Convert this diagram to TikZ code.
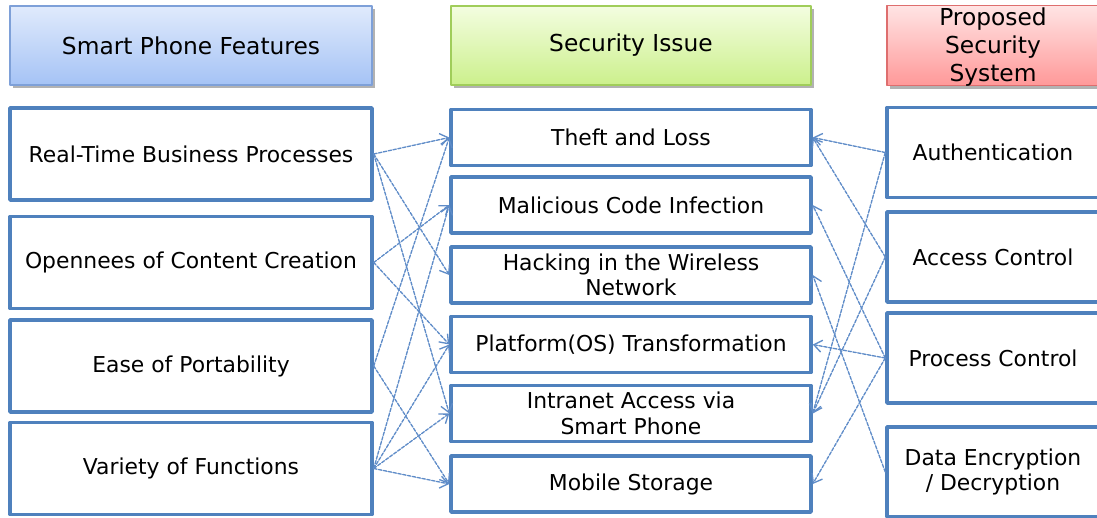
\documentclass[tikz,border=0pt]{standalone}
\usepackage{fontspec}
\setmainfont{DejaVu Sans}
\usetikzlibrary{arrows.meta}
\usetikzlibrary{shadows}
\definecolor{boxblue}{RGB}{79,129,189}
\definecolor{linkblue}{RGB}{95,140,200}
\definecolor{headblueA}{RGB}{224,234,252}
\definecolor{headblueB}{RGB}{165,195,245}
\definecolor{headblueC}{RGB}{126,160,216}
\definecolor{headgreenA}{RGB}{243,253,224}
\definecolor{headgreenB}{RGB}{204,240,140}
\definecolor{headgreenC}{RGB}{160,205,90}
\definecolor{headredA}{RGB}{255,229,229}
\definecolor{headredB}{RGB}{255,152,152}
\definecolor{headredC}{RGB}{222,110,110}

\begin{document}
\begin{tikzpicture}[line cap=round,line join=round,x=0.75pt,y=-0.75pt,
  >={Straight Barb[length=6pt,width=9pt]},
  head/.style={draw,line width=0.8pt,align=center,inner sep=0pt,
    minimum height=59.25pt,font=\fontsize{17.5}{21}\selectfont,
    drop shadow={shadow xshift=2pt,shadow yshift=-2pt,opacity=0.3,fill=black}},
  feat/.style={draw=boxblue,line width=2.6pt,align=center,
    minimum width=271.5pt,minimum height=69pt,font=\fontsize{16.4}{19}\selectfont},
  issue/.style={feat,minimum width=270pt,minimum height=42pt},
  prop/.style={feat,minimum width=159pt,minimum height=67.5pt},
  link/.style={->,draw=linkblue,line width=1pt,dash pattern=on 2.5pt off 1.2pt}]
\useasboundingbox (0,0) rectangle (1097,518);

% Kopfzeilen
\node[head,draw=headblueC,top color=headblueA,bottom color=headblueB,minimum width=271.5pt]
  (hfeat) at (191,45.5) {Smart Phone Features};
\node[head,draw=headgreenC,top color=headgreenA,bottom color=headgreenB,minimum width=270pt]
  (hissue) at (631,45.5) {Security Issue};
\node[head,draw=headredC,top color=headredA,bottom color=headredB,minimum width=159pt]
  (hprop) at (993,45.5) {\rule{0pt}{15pt}Proposed\\Security\\System};

% Features (links)
\node[feat] (l1) at (191,154) {Real-Time Business Processes};
\node[feat] (l2) at (191,262.5) {Opennees of Content Creation};
\node[feat] (l3) at (191,366) {Ease of Portability};
\node[feat] (l4) at (191,468.5) {Variety of Functions};

% Issues (Mitte)
\node[issue] (m1) at (631,137.5) {Theft and Loss};
\node[issue] (m2) at (631,205) {Malicious Code Infection};
\node[issue] (m3) at (631,275) {Hacking in the Wireless\\Network};
\node[issue] (m4) at (631,344.5) {Platform(OS) Transformation};
\node[issue] (m5) at (631,413.5) {Intranet Access via\\Smart Phone};
\node[issue] (m6) at (631,484) {Mobile Storage};

% System (rechts)
\node[prop] (r1) at (993,152.5) {Authentication};
\node[prop] (r2) at (993,257) {Access Control};
\node[prop] (r3) at (993,358) {Process Control};
\node[prop] (r4) at (993,472) {Data Encryption\\/ Decryption};

% Pfeile
\foreach \a/\b in {l1/m1,l1/m3,l1/m5,l2/m2,l2/m4,l3/m1,l3/m6,l4/m2,l4/m4,l4/m5,l4/m6}
    \draw[link] (\a.east) -- (\b.west);
\foreach \a/\b in {r1/m1,r1/m5,r2/m1,r2/m5,r3/m2,r3/m4,r3/m6,r4/m3}
    \draw[link] (\a.west) -- (\b.east);
\end{tikzpicture}
\end{document}
